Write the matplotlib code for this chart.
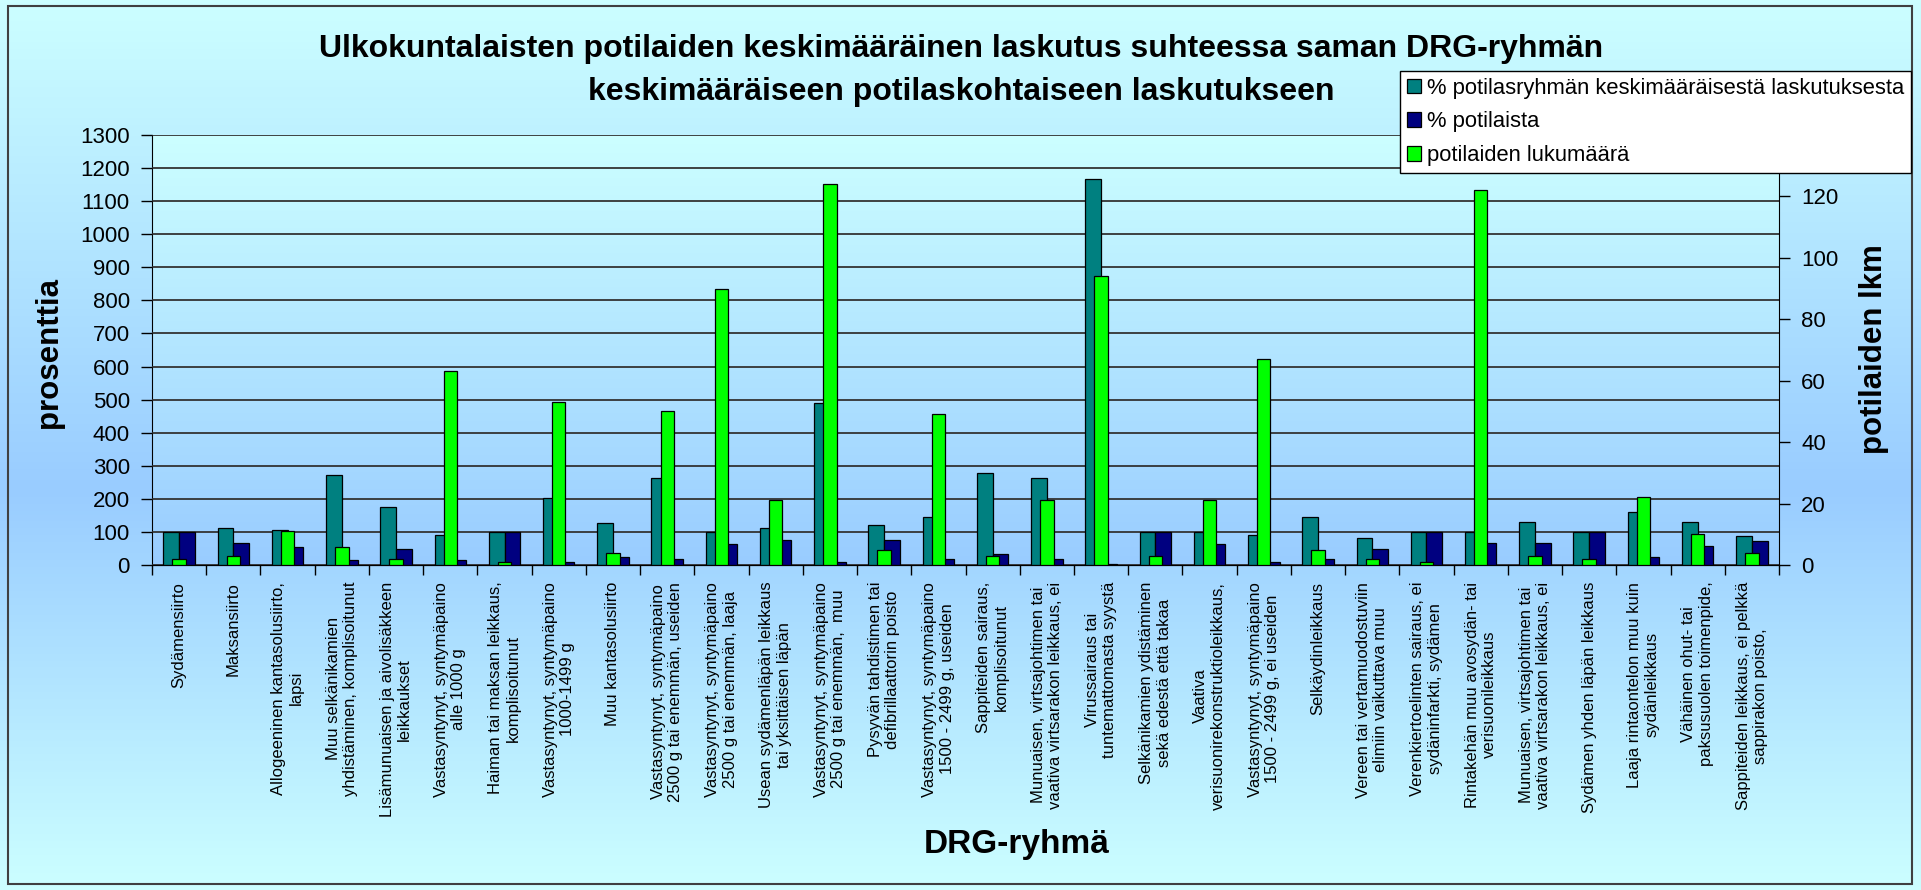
import numpy as np
import matplotlib
matplotlib.use("Agg")
import matplotlib.pyplot as plt
from matplotlib.colors import LinearSegmentedColormap
from matplotlib.patches import Patch, Rectangle

plt.rcParams['font.family'] = ['Liberation Sans', 'DejaVu Sans']

# data
ryhmat = [
    "Sydämensiirto",
    "Maksansiirto",
    "Allogeeninen kantasolusiirto,\nlapsi",
    "Muu selkänikamien\nyhdistäminen, komplisoitunut",
    "Lisämunuaisen ja aivolisäkkeen\nleikkaukset",
    "Vastasyntynyt, syntymäpaino\nalle 1000 g",
    "Haiman tai maksan leikkaus,\nkomplisoitunut",
    "Vastasyntynyt, syntymäpaino\n1000-1499 g",
    "Muu kantasolusiirto",
    "Vastasyntynyt, syntymäpaino\n2500 g tai enemmän, useiden",
    "Vastasyntynyt, syntymäpaino\n2500 g tai enemmän, laaja",
    "Usean sydämenläpän leikkaus\ntai yksittäisen läpän",
    "Vastasyntynyt, syntymäpaino\n2500 g tai enemmän,  muu",
    "Pysyvän tahdistimen tai\ndefibrillaattorin poisto",
    "Vastasyntynyt, syntymäpaino\n1500 - 2499 g, useiden",
    "Sappiteiden sairaus,\nkomplisoitunut",
    "Munuaisen, virtsajohtimen tai\nvaativa virtsarakon leikkaus, ei",
    "Virussairaus tai\ntuntemattomasta syystä",
    "Selkänikamien ydistäminen\nsekä edestä että takaa",
    "Vaativa\nverisuonirekonstruktioleikkaus,",
    "Vastasyntynyt, syntymäpaino\n1500 - 2499 g, ei useiden",
    "Selkäydinleikkaus",
    "Vereen tai vertamuodostuviin\nelimiin vaikuttava muu",
    "Verenkiertoelinten sairaus, ei\nsydäninfarkti, sydämen",
    "Rintakehän muu avosydän- tai\nverisuonileikkaus",
    "Munuaisen, virtsajohtimen tai\nvaativa virtsarakon leikkaus, ei",
    "Sydämen yhden läpän leikkaus",
    "Laaja rintaontelon muu kuin\nsydänleikkaus",
    "Vähäinen ohut- tai\npaksusuolen toimenpide,",
    "Sappiteiden leikkaus, ei pelkkä\nsappirakon poisto,",
]
laskutus_pros = [100, 111, 106, 272, 175, 92, 100, 204, 126, 263,
                 100, 111, 491, 121, 144, 277, 263, 1166, 100, 100,
                 91, 144, 81, 100, 100, 130, 100, 160, 130, 87]
potilaat_pros = [100, 68, 54, 14, 49, 14, 100, 10, 23, 18,
                 63, 77, 10, 77, 18, 33, 18, 4, 100, 63,
                 9, 18, 48, 100, 68, 68, 100, 23, 58, 72]
potilaat_lkm = [2, 3, 11, 6, 2, 63, 1, 53, 4, 50,
                90, 21, 124, 5, 49, 3, 21, 94, 3, 21,
                67, 5, 2, 1, 122, 3, 2, 22, 10, 4]

sarjat = ["% potilasryhmän keskimääräisestä laskutuksesta",
          "% potilaista",
          "potilaiden lukumäärä"]
varit = ["#008080", "#000080", "#00FF00"]

W, H = 1921, 890
fig = plt.figure(figsize=(W / 100, H / 100), dpi=100)

# taustan liukuväri
bg = fig.add_axes([0, 0, 1, 1], zorder=-10)
bg_cmap = LinearSegmentedColormap.from_list(
    "bg", [(0, "#CCFFFF"), (0.55, "#99CCFF"), (1, "#CCFFFF")])
bg.imshow(np.linspace(0, 1, 256)[:, None], cmap=bg_cmap, aspect="auto",
          extent=[0, 1, 0, 1])
bg.set_axis_off()
fig.patches.append(Rectangle((8 / W, 1 - 884 / H), 1904 / W, 878 / H,
                             transform=fig.transFigure, fill=False,
                             edgecolor="#404040", lw=1.5))

x0, x1, y0, y1 = 152, 1779, 135, 565
ax = fig.add_axes([x0 / W, 1 - y1 / H, (x1 - x0) / W, (y1 - y0) / H])
n = len(ryhmat)
x = np.arange(n)

pa_cmap = LinearSegmentedColormap.from_list("pa", ["#CCFFFF", "#99CCFF"])
ax.imshow(np.linspace(0, 1, 256)[:, None], cmap=pa_cmap, aspect="auto",
          extent=[-0.5, n - 0.5, 0, 1300], zorder=0)
ax.patch.set_visible(False)

bw = 0.29
ax.bar(x - bw / 2, laskutus_pros, bw, color=varit[0], edgecolor="black",
       lw=0.9, zorder=3)
ax.bar(x + bw / 2, potilaat_pros, bw, color=varit[1], edgecolor="black",
       lw=0.9, zorder=3)
ax.set_xlim(-0.5, n - 0.5)
ax.set_ylim(0, 1300)
ax.set_yticks(range(0, 1301, 100))
ax.yaxis.grid(True, color="#333333", lw=1.3, zorder=1)
ax.set_axisbelow(False)
for gl in ax.get_ygridlines():
    gl.set_zorder(1)

ax2 = ax.twinx()
ax2.bar(x, potilaat_lkm, 0.247, color=varit[2], edgecolor="black", lw=0.9,
        zorder=3)
ax2.set_ylim(0, 140)
ax2.set_yticks(range(0, 141, 20))

for a in (ax, ax2):
    a.spines["top"].set_visible(False)
    a.tick_params(axis="y", labelsize=16, length=8, direction="out",
                  width=1, pad=8)
ax.spines["right"].set_visible(False)
ax2.spines["left"].set_visible(False)

ax.set_xticks(x)
ax.set_xticklabels(ryhmat, rotation=90, ha="center", va="top",
                   multialignment="center", fontsize=12)
ax.tick_params(axis="x", which="major", length=0, pad=12)
ax.set_xticks(np.arange(-0.5, n, 1), minor=True)
ax.tick_params(axis="x", which="minor", length=7, direction="out", width=1)
ax2.tick_params(axis="x", length=0)

fig.text(961 / W, 1 - 49 / H,
         "Ulkokuntalaisten potilaiden keskimääräinen laskutus suhteessa saman DRG-ryhmän",
         ha="center", va="center", fontsize=23, fontweight="bold")
fig.text(961 / W, 1 - 92 / H,
         "keskimääräiseen potilaskohtaiseen laskutukseen",
         ha="center", va="center", fontsize=23, fontweight="bold")
fig.text(49 / W, 1 - 353 / H, "prosenttia", rotation=90, ha="center",
         va="center", fontsize=22.5, fontweight="bold")
fig.text(1874 / W, 1 - 349 / H, "potilaiden lkm", rotation=90, ha="center",
         va="center", fontsize=22.5, fontweight="bold")
fig.text(1017 / W, 1 - 845 / H, "DRG-ryhmä", ha="center", va="center",
         fontsize=24, fontweight="bold")

kahvat = [Patch(facecolor=c, edgecolor="black", lw=0.9) for c in varit]
leg = fig.legend(kahvat, sarjat, loc="upper left",
                 bbox_to_anchor=(1400 / W, 1 - 71 / H), fontsize=15.8,
                 frameon=True, fancybox=False, framealpha=1,
                 edgecolor="black", handlelength=0.65, handleheight=0.65,
                 handletextpad=0.3, labelspacing=0.58, borderpad=0.3,
                 borderaxespad=0)
leg.get_frame().set_linewidth(1)

fig.savefig("out.png", dpi=100)
